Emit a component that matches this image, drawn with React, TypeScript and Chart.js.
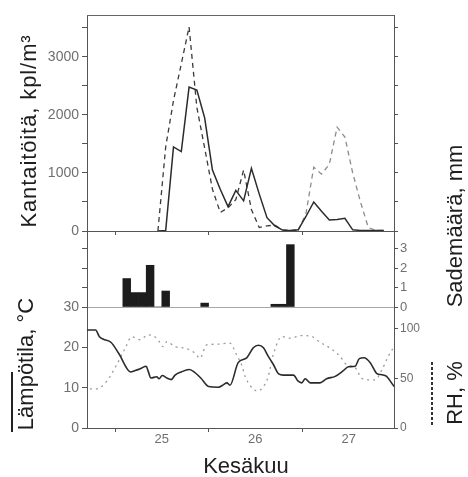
import React, { useEffect, useRef } from "react";
import { Chart, registerables } from "chart.js";

Chart.register(...registerables);

const FONT = '"Liberation Sans", Arial, Helvetica, sans-serif';
const WIDTH = 468;
const HEIGHT = 477;

// Time axis: hours counted from 25 June 00:00
const hourMin = -7.2;
const hourMax = 71.6;
const dayTickHours = [0, 12, 24, 36, 48, 60];
const dayLabelHours = [12, 36, 60];
const dayLabels = ["25", "26", "27"];

// Pollen counts (kpl/m³), two-hour samples
const pollenHours = [11, 13, 15, 17, 19, 21, 23, 25, 27, 29, 31, 33, 35, 37, 39, 41, 43, 45, 47, 49, 51, 53, 55, 57, 59, 61, 63, 65, 67, 69];
const pollenSolid = [0, 10, 1450, 1370, 2480, 2430, 1950, 1050, 720, 420, 700, 520, 1080, 640, 230, 90, 15, 10, 20, 250, 500, 340, 190, 200, 220, 20, 10, 10, 10, 10];
const pollenDashed = [0, 1450, 2250, 2880, 3520, 2130, 1430, 720, 320, 400, 540, 1050, 370, 60, 90, 100, 20, 10, 10, 300, 1100, 980, 1150, 1790, 1620, 1000, 500, 60, 10, 10];
const pollenTickValues = [0, 500, 1000, 1500, 2000, 2500, 3000, 3500];
const pollenLabels = [0, 1000, 2000, 3000];

// Precipitation (mm) per two-hour interval, centre hour
const rainHours = [3, 5, 7, 9, 11, 13, 23, 41, 43, 45];
const rainMm = [1.46, 0.74, 0.74, 2.14, 0, 0.82, 0.2, 0.14, 0.14, 3.2];
const rainTickValues = [0, 1, 2, 3];

// Air temperature (°C)
const tempHours = [-8, -5, -4, -3, -1, 1, 4, 5, 6.5, 8, 8.5, 9.2, 10.7, 11.3, 12.1, 13.3, 14.4, 15.4, 17, 19, 20, 22, 24, 26.5, 27.8, 28.7, 29.5, 31.6, 33.8, 35.5, 36.8, 38.1, 39.3, 40.6, 42, 43.2, 45.8, 47, 47.9, 48.8, 50.1, 52.6, 54.3, 56.5, 58.6, 59.9, 61.6, 62.7, 63.9, 65.5, 67.2, 68.5, 69.7, 71.4, 72];
const tempC = [24.3, 24.3, 22.6, 22.0, 21.2, 18.4, 13.9, 14.2, 14.7, 15.3, 14.1, 12.4, 12.7, 12.2, 13.0, 12.4, 12.0, 13.1, 13.9, 14.5, 14.1, 12.4, 10.3, 10.1, 10.7, 11.2, 10.6, 16.2, 17.4, 19.9, 20.5, 19.9, 17.8, 15.8, 13.4, 13.1, 13.1, 11.6, 11.2, 12.2, 11.2, 11.2, 12.2, 12.8, 14.2, 15.2, 15.3, 17.2, 17.4, 16.2, 13.5, 13.2, 12.8, 10.6, 10.0];
const tempTickValues = [0, 10, 20, 30];

// Relative humidity (%)
const rhHours = [-8, -5, -2.6, 0.4, 2.6, 4.3, 6.4, 8.5, 10.7, 12.4, 13.3, 15.4, 18, 20.5, 21.8, 23.5, 26.1, 29.5, 31.2, 32.5, 33.4, 34.7, 36.4, 38.1, 39.3, 40.6, 42.8, 44.9, 47.9, 50.5, 52.6, 55.2, 57.8, 59.5, 61.6, 63.3, 65, 66.7, 68.5, 70.1, 71.4, 72];
const rhPct = [39.4, 39.4, 45, 63.6, 80.5, 92, 89, 94, 90.6, 82, 87, 82, 80.5, 75.5, 70.4, 83.8, 84.5, 85.5, 73.7, 63.6, 51.8, 42.7, 37.4, 41.7, 51.8, 73.7, 92.2, 90.6, 93.2, 92.2, 86.6, 80.5, 72, 63.6, 61, 50.2, 48.5, 48.5, 58.6, 72, 80.5, 83];
const rhTickValues = [0, 50, 100];

const AXIS_COLOR = "#555";
const LABEL_COLOR = "#6f6f6f";

const pairs = (xs: number[], ys: number[]) => xs.map((x, i) => ({ x, y: ys[i] }));

function timeAxis(height: number, showLabels: boolean, showTicks: boolean, border: any) {
  return {
    type: "linear",
    position: "bottom",
    min: hourMin,
    max: hourMax,
    offset: false,
    afterBuildTicks: (s: any) => {
      s.ticks = dayTickHours.map((v) => ({ value: v }));
    },
    afterFit: (s: any) => {
      s.height = height;
    },
    grid: {
      display: showTicks,
      offset: false,
      drawOnChartArea: false,
      drawTicks: true,
      tickLength: 4,
      tickWidth: 1,
      tickColor: (c: any) => (c.tick && c.tick.value % 24 === 0 ? AXIS_COLOR : "rgba(0,0,0,0)"),
    },
    border,
    ticks: {
      display: showLabels,
      autoSkip: false,
      maxRotation: 0,
      padding: 0,
      color: LABEL_COLOR,
      font: { family: FONT, size: 13 },
      callback: (_v: any, i: number) => {
        const k = dayLabelHours.indexOf(dayTickHours[i]);
        return k >= 0 ? dayLabels[k] : "";
      },
    },
  };
}

function valueAxis(
  position: "left" | "right",
  min: number,
  max: number,
  tickValues: number[],
  labels: number[] | null,
  size: number
) {
  return {
    type: "linear",
    position,
    min,
    max,
    afterBuildTicks: (s: any) => {
      s.ticks = tickValues.map((v) => ({ value: v }));
    },
    afterFit: (s: any) => {
      s.width = position === "left" ? 87 : 74;
    },
    grid: {
      display: true,
      drawOnChartArea: false,
      drawTicks: true,
      tickLength: position === "left" ? 5 : 4,
      tickWidth: 1,
      tickColor: AXIS_COLOR,
    },
    border: { display: true, color: AXIS_COLOR, width: 1 },
    ticks: {
      autoSkip: false,
      padding: position === "left" ? 3 : 2,
      color: LABEL_COLOR,
      font: { family: FONT, size },
      callback: (_v: any, i: number) => {
        const v = tickValues[i];
        return labels && labels.indexOf(v) >= 0 ? String(v) : "";
      },
    },
  };
}

const topFrame = {
  id: "topFrame",
  afterDraw(chart: any) {
    const { ctx, chartArea } = chart;
    ctx.save();
    ctx.strokeStyle = "#666";
    ctx.lineWidth = 1;
    ctx.beginPath();
    ctx.moveTo(chartArea.left, chartArea.top + 0.5);
    ctx.lineTo(chartArea.right, chartArea.top + 0.5);
    ctx.stroke();
    ctx.restore();
  },
};

const baseOptions = {
  responsive: false,
  animation: false,
  devicePixelRatio: 1,
  events: [],
  plugins: { legend: { display: false }, tooltip: { enabled: false }, title: { display: false } },
};

export default function App() {
  const pollenRef = useRef<HTMLCanvasElement>(null);
  const rainRef = useRef<HTMLCanvasElement>(null);
  const weatherRef = useRef<HTMLCanvasElement>(null);

  useEffect(() => {
    const charts: Chart[] = [];

    charts.push(
      new Chart(pollenRef.current as HTMLCanvasElement, {
        type: "line",
        data: {
          datasets: [
            {
              label: "kiinteä",
              data: pairs(pollenHours, pollenSolid),
              borderColor: "#2b2b2b",
              borderWidth: 1.5,
              pointRadius: 0,
              tension: 0,
              yAxisID: "y",
            },
            {
              label: "katko",
              data: pairs(pollenHours, pollenDashed),
              borderColor: "#3a3a3a",
              borderWidth: 1.3,
              borderDash: [5, 4],
              pointRadius: 0,
              tension: 0,
              yAxisID: "y",
              segment: {
                borderColor: (c: any) => (c.p0.parsed.x >= 47 ? "#8c8c8c" : "#3a3a3a"),
              },
            },
          ],
        },
        options: {
          ...baseOptions,
          layout: { padding: { top: 15, bottom: 240, left: 0, right: 0 } },
          scales: {
            x: timeAxis(6, false, true, { display: true, color: AXIS_COLOR, width: 1 }),
            y: valueAxis("left", 0, 3724, pollenTickValues, pollenLabels, 14),
            yr: valueAxis("right", 0, 3724, pollenTickValues, null, 12),
          },
        },
        plugins: [topFrame],
      } as any)
    );

    charts.push(
      new Chart(rainRef.current as HTMLCanvasElement, {
        type: "bar",
        data: {
          datasets: [
            {
              label: "sade",
              data: pairs(rainHours, rainMm),
              backgroundColor: "#1c1c1c",
              borderWidth: 0,
              barPercentage: 1,
              categoryPercentage: 1,
              yAxisID: "yr",
            },
          ],
        },
        options: {
          ...baseOptions,
          layout: { padding: { top: 231, bottom: 169, left: 0, right: 0 } },
          scales: {
            x: timeAxis(1, false, false, { display: true, color: "#a8a8a8", width: 1, dash: [5, 8] }),
            y: valueAxis("left", 0, 3.9, rainTickValues, null, 12),
            yr: valueAxis("right", 0, 3.9, rainTickValues, rainTickValues, 13),
          },
        },
      } as any)
    );

    charts.push(
      new Chart(weatherRef.current as HTMLCanvasElement, {
        type: "line",
        data: {
          datasets: [
            {
              label: "lämpötila",
              data: pairs(tempHours, tempC),
              borderColor: "#2b2b2b",
              borderWidth: 1.6,
              pointRadius: 0,
              cubicInterpolationMode: "monotone",
              yAxisID: "y",
            },
            {
              label: "RH",
              data: pairs(rhHours, rhPct),
              borderColor: "#9a9a9a",
              borderWidth: 1.3,
              borderDash: [2, 4],
              pointRadius: 0,
              cubicInterpolationMode: "monotone",
              yAxisID: "yr",
            },
          ],
        },
        options: {
          ...baseOptions,
          layout: { padding: { top: 307, bottom: 0, left: 0, right: 0 } },
          scales: {
            x: timeAxis(49, true, true, { display: true, color: AXIS_COLOR, width: 1 }),
            y: valueAxis("left", 0, 30, tempTickValues, tempTickValues, 14),
            yr: valueAxis("right", 0, 122, rhTickValues, rhTickValues, 12),
          },
        },
      } as any)
    );

    return () => charts.forEach((c) => c.destroy());
  }, []);

  const canvasStyle: React.CSSProperties = { position: "absolute", left: 0, top: 0 };
  const title = (cx: number, cy: number, rotate: boolean, spacing = 0): React.CSSProperties => ({
    position: "absolute",
    left: cx,
    top: cy,
    transform: rotate ? "translate(-50%, -50%) rotate(-90deg)" : "translate(-50%, -50%)",
    whiteSpace: "nowrap",
    fontFamily: FONT,
    fontSize: 22,
    lineHeight: "22px",
    letterSpacing: spacing,
    color: "#1e1e1e",
  });

  return (
    <div
      style={{
        position: "fixed",
        left: 0,
        top: 0,
        width: WIDTH,
        height: HEIGHT,
        background: "#ffffff",
        overflow: "hidden",
      }}
    >
      <canvas ref={pollenRef} width={WIDTH} height={HEIGHT} style={canvasStyle} />
      <canvas ref={rainRef} width={WIDTH} height={HEIGHT} style={canvasStyle} />
      <canvas ref={weatherRef} width={WIDTH} height={HEIGHT} style={canvasStyle} />

      <div style={title(29, 131, true, 0.9)}>Kantaitöitä, kpl/m³</div>
      <div style={title(455, 226, true)}>Sademäärä, mm</div>
      <div style={title(26, 364, true)}>Lämpötila, °C</div>
      <div style={title(455, 393, true)}>RH, %</div>
      <div style={title(246, 466, false)}>Kesäkuu</div>

      <div
        style={{ position: "absolute", left: 11, top: 372, width: 1.5, height: 60, background: "#222" }}
      />
      <div
        style={{
          position: "absolute",
          left: 431,
          top: 362,
          width: 1.6,
          height: 65,
          backgroundImage: "repeating-linear-gradient(to bottom, #333 0px, #333 3px, transparent 3px, transparent 5px)",
        }}
      />
    </div>
  );
}
